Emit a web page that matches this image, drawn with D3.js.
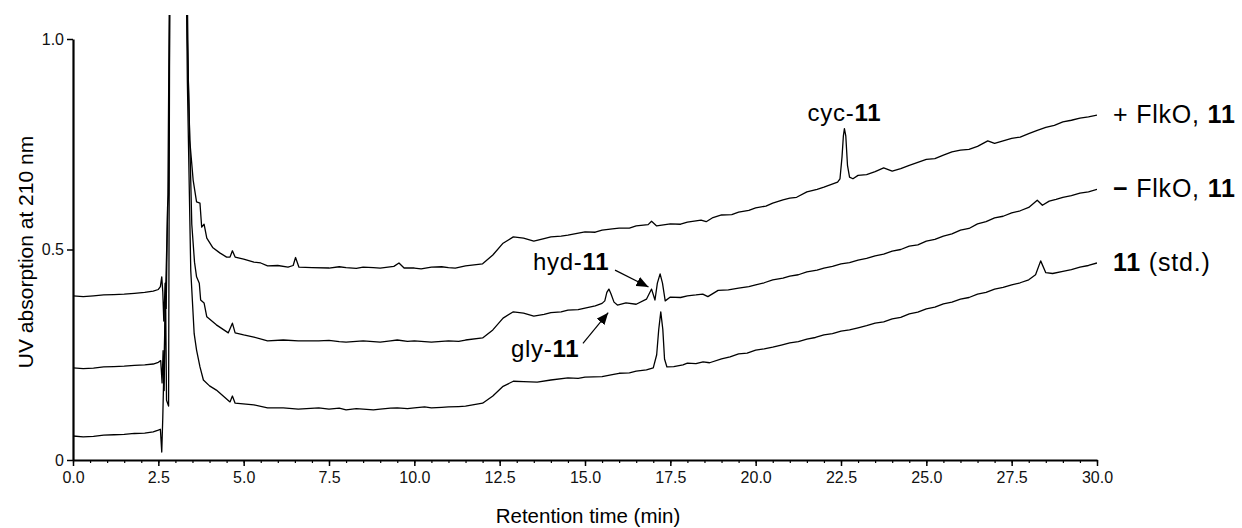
<!DOCTYPE html>
<html>
<head>
<meta charset="utf-8">
<script src="https://cdn.jsdelivr.net/npm/d3@7"></script>
<style>
  body { margin: 0; background: #fff; }
  svg { display: block; font-family: Arial, "Liberation Sans", Helvetica, sans-serif; }
  .axis path, .axis line { stroke: #000; }
  .axis text { font-size: 16px; fill: #111; font-family: Arial, "Liberation Sans", sans-serif; }
</style>
</head>
<body>
<svg id="chart" width="1242" height="528"></svg>
<script>
// [retention time (min), UV absorption]
const plusFlkO = [
  [0,0.390],[0.3,0.388],[0.6,0.390],[0.9,0.392],[1.2,0.393],[1.5,0.394],[1.8,0.396],[2.1,0.398],[2.35,0.401],
  [2.5,0.405],[2.56,0.412],[2.6,0.435],[2.63,0.40],[2.66,0.33],[2.7,0.42],[2.73,0.36],[2.77,0.60],[2.8,0.63],
  [2.85,1.3],[3.3,1.3],[3.35,1.0],[3.42,0.76],[3.52,0.665],[3.62,0.613],[3.72,0.610],[3.77,0.553],[3.84,0.560],
  [3.92,0.527],[4.1,0.504],[4.3,0.492],[4.5,0.482],[4.6,0.482],[4.67,0.497],[4.75,0.482],[5.0,0.477],[5.3,0.470],
  [5.5,0.468],[5.7,0.461],[6.0,0.462],[6.3,0.458],[6.45,0.462],[6.52,0.481],[6.62,0.458],[7.0,0.457],[7.5,0.456],
  [7.8,0.459],[8.0,0.457],[8.3,0.455],[8.5,0.458],[8.8,0.457],[9.0,0.456],[9.4,0.460],[9.55,0.468],[9.7,0.456],
  [10.0,0.456],[10.2,0.454],[10.5,0.458],[10.8,0.459],[11.0,0.457],[11.2,0.456],[11.5,0.461],[12.0,0.466],
  [12.3,0.487],[12.6,0.515],[12.9,0.530],[13.2,0.527],[13.5,0.520],[13.8,0.526],[14.0,0.530],[14.3,0.532],
  [14.5,0.534],[15.0,0.542],[15.3,0.541],[15.5,0.546],[15.8,0.549],[16.0,0.551],[16.3,0.551],[16.5,0.556],
  [16.85,0.559],[16.95,0.567],[17.1,0.556],[17.5,0.561],[17.8,0.560],[18.0,0.565],[18.4,0.570],[18.55,0.566],
  [18.75,0.576],[19.0,0.582],[19.3,0.583],[19.5,0.589],[19.8,0.593],[20.0,0.599],[20.3,0.603],[20.5,0.610],
  [20.8,0.618],[21.0,0.622],[21.2,0.624],[21.5,0.637],[21.8,0.643],[22.0,0.648],[22.4,0.660],[22.47,0.668],
  [22.53,0.72],[22.57,0.77],[22.6,0.787],[22.64,0.77],[22.69,0.70],[22.75,0.672],[22.85,0.668],[23.0,0.676],
  [23.25,0.678],[23.5,0.685],[23.75,0.694],[24.0,0.686],[24.25,0.692],[24.5,0.700],[24.75,0.707],[25.0,0.714],
  [25.25,0.716],[25.5,0.724],[25.75,0.732],[26.0,0.736],[26.25,0.738],[26.5,0.745],[26.8,0.758],[27.0,0.752],
  [27.25,0.758],[27.5,0.764],[27.75,0.767],[28.0,0.775],[28.25,0.783],[28.5,0.790],[28.75,0.795],[29.0,0.803],
  [29.25,0.807],[29.5,0.812],[29.75,0.815],[30.0,0.819]
];
const minusFlkO = [
  [0,0.219],[0.3,0.217],[0.6,0.218],[0.9,0.221],[1.2,0.222],[1.5,0.223],[1.8,0.225],[2.1,0.226],[2.35,0.228],
  [2.5,0.232],[2.57,0.236],[2.61,0.183],[2.64,0.26],[2.67,0.165],[2.71,0.42],[2.74,0.142],[2.8,0.128],
  [2.84,1.3],[3.32,1.3],[3.38,0.9],[3.48,0.56],[3.56,0.47],[3.62,0.435],[3.7,0.420],[3.74,0.380],[3.84,0.373],
  [3.92,0.340],[4.2,0.321],[4.55,0.302],[4.67,0.325],[4.75,0.302],[5.0,0.297],[5.3,0.292],[5.7,0.283],
  [6.16,0.285],[6.6,0.283],[7.2,0.283],[7.5,0.284],[7.8,0.281],[8.0,0.280],[8.3,0.282],[8.5,0.283],[8.8,0.281],
  [9.0,0.280],[9.3,0.283],[9.5,0.285],[9.8,0.282],[10.0,0.283],[10.3,0.281],[10.5,0.280],[10.8,0.282],
  [11.0,0.283],[11.3,0.282],[11.5,0.285],[12.0,0.290],[12.3,0.309],[12.6,0.337],[12.9,0.352],[13.2,0.349],
  [13.5,0.342],[13.8,0.346],[14.0,0.350],[14.3,0.352],[14.5,0.356],[14.8,0.357],[15.0,0.361],[15.3,0.366],
  [15.5,0.372],[15.58,0.378],[15.64,0.398],[15.7,0.406],[15.76,0.395],[15.85,0.375],[15.95,0.368],[16.2,0.373],
  [16.5,0.370],[16.8,0.382],[16.95,0.406],[17.05,0.380],[17.12,0.42],[17.2,0.442],[17.27,0.42],[17.35,0.378],
  [17.5,0.387],[17.8,0.386],[18.0,0.390],[18.25,0.392],[18.45,0.394],[18.6,0.388],[18.9,0.403],[19.2,0.404],
  [19.5,0.408],[19.8,0.412],[20.0,0.416],[20.25,0.421],[20.5,0.428],[20.8,0.432],[21.0,0.437],[21.25,0.440],
  [21.5,0.447],[21.8,0.451],[22.0,0.456],[22.25,0.460],[22.5,0.466],[22.75,0.469],[23.0,0.475],[23.25,0.479],
  [23.5,0.485],[23.75,0.489],[24.0,0.496],[24.25,0.500],[24.5,0.508],[24.75,0.511],[25.0,0.520],[25.25,0.524],
  [25.5,0.532],[25.75,0.537],[26.0,0.546],[26.25,0.550],[26.5,0.561],[26.75,0.566],[27.0,0.575],[27.25,0.579],
  [27.5,0.587],[27.75,0.592],[28.0,0.600],[28.25,0.617],[28.4,0.605],[28.6,0.615],[28.8,0.619],[29.0,0.624],
  [29.25,0.628],[29.5,0.634],[29.75,0.637],[30.0,0.643]
];
const std11 = [
  [0,0.057],[0.3,0.055],[0.6,0.056],[0.9,0.059],[1.2,0.060],[1.5,0.061],[1.8,0.063],[2.1,0.064],[2.35,0.067],
  [2.5,0.071],[2.56,0.073],[2.6,0.019],[2.63,0.10],[2.7,0.35],[2.78,0.62],[2.84,1.3],[3.3,1.3],[3.35,0.9],
  [3.45,0.45],[3.55,0.30],[3.62,0.261],[3.72,0.221],[3.82,0.190],[4.0,0.176],[4.2,0.166],[4.6,0.138],[4.67,0.152],
  [4.75,0.135],[5.3,0.131],[5.7,0.124],[6.16,0.124],[6.6,0.121],[7.2,0.124],[7.5,0.121],[7.8,0.123],[8.0,0.119],
  [8.3,0.122],[8.5,0.121],[8.8,0.119],[9.0,0.121],[9.3,0.123],[9.5,0.124],[9.8,0.122],[10.0,0.124],[10.3,0.126],
  [10.5,0.124],[10.8,0.125],[11.0,0.126],[11.3,0.127],[11.5,0.128],[12.0,0.135],[12.3,0.152],[12.6,0.175],
  [12.9,0.187],[13.2,0.186],[13.6,0.185],[14.0,0.190],[14.5,0.195],[14.8,0.194],[15.0,0.197],[15.5,0.198],
  [15.8,0.203],[16.0,0.206],[16.3,0.207],[16.5,0.211],[16.8,0.214],[17.0,0.219],[17.1,0.25],[17.16,0.31],
  [17.22,0.352],[17.28,0.31],[17.33,0.24],[17.4,0.221],[17.6,0.222],[17.87,0.226],[18.0,0.230],[18.25,0.229],
  [18.46,0.233],[18.65,0.231],[19.0,0.240],[19.25,0.245],[19.5,0.252],[19.75,0.254],[20.0,0.261],[20.25,0.264],
  [20.5,0.268],[20.75,0.273],[21.0,0.278],[21.25,0.281],[21.5,0.287],[21.75,0.291],[22.0,0.297],[22.25,0.300],
  [22.5,0.306],[22.75,0.309],[23.0,0.314],[23.25,0.319],[23.5,0.325],[23.75,0.328],[24.0,0.335],[24.25,0.339],
  [24.5,0.347],[24.75,0.351],[25.0,0.359],[25.25,0.363],[25.5,0.371],[25.75,0.375],[26.0,0.382],[26.25,0.386],
  [26.5,0.394],[26.75,0.398],[27.0,0.406],[27.25,0.410],[27.5,0.416],[27.75,0.421],[28.0,0.428],[28.2,0.440],
  [28.35,0.473],[28.5,0.445],[28.7,0.443],[29.0,0.448],[29.25,0.452],[29.5,0.458],[29.75,0.462],[30.0,0.468]
];
const majorTicksX = [0, 2.5, 5, 7.5, 10, 12.5, 15, 17.5, 20, 22.5, 25, 27.5, 30];
const minorTicksX = d3.range(0, 30.01, 0.5);
const ticksY = [0, 0.5, 1.0];
const tickLabelsY = ['0', '0.5', '1.0'];
// trace labels: [text, bold?] pieces
const traceLabels = [
  [['+ FlkO, ', false], ['11', true]],
  [['\u2212', true], [' FlkO, ', false], ['11', true]],
  [['11', true], [' (std.)', false]]
];
const traces = [plusFlkO, minusFlkO, std11];

const svg = d3.select('#chart');

const x = d3.scaleLinear().domain([0, 30]).range([73, 1097]);
const y = d3.scaleLinear().domain([0, 1]).range([460, 39]);

const defs = svg.append('defs');
defs.append('clipPath').attr('id', 'plotclip')
  .append('rect').attr('x', 73).attr('y', 15).attr('width', 1097 - 73).attr('height', 445);

defs.append('marker')
  .attr('id', 'arrow')
  .attr('viewBox', '0 0 12 10')
  .attr('refX', 12).attr('refY', 5)
  .attr('markerWidth', 12).attr('markerHeight', 10)
  .attr('markerUnits', 'userSpaceOnUse')
  .attr('orient', 'auto')
  .append('path').attr('d', 'M0,0 L12,5 L0,10 z').attr('fill', '#000');

// traces
const line = d3.line().x(d => x(d[0])).y(d => y(d[1]));
svg.append('g').attr('clip-path', 'url(#plotclip)')
  .selectAll('path').data(traces).join('path')
  .attr('d', line)
  .attr('fill', 'none')
  .attr('stroke', '#000')
  .attr('stroke-width', 1.3)
  .attr('stroke-linejoin', 'round');

// x axis
const gx = svg.append('g').attr('class', 'axis').attr('transform', 'translate(0,460)');
gx.append('g').call(d3.axisBottom(x).tickValues(minorTicksX).tickSize(3).tickFormat('').tickSizeOuter(0))
  .call(g => g.select('.domain').remove())
  .selectAll('line').attr('stroke-width', 1.2);
gx.append('g').call(d3.axisBottom(x).tickValues(majorTicksX).tickSize(6).tickPadding(6).tickFormat(d3.format('.1f')).tickSizeOuter(0))
  .call(g => g.select('.domain').attr('stroke-width', 2.2))
  .call(g => g.selectAll('line').attr('stroke-width', 1.5));

// y axis
const gy = svg.append('g').attr('class', 'axis').attr('transform', 'translate(73,0)');
gy.call(d3.axisLeft(y).tickValues(ticksY).tickSize(6).tickPadding(3).tickFormat((d, i) => tickLabelsY[i]).tickSizeOuter(0))
  .call(g => g.select('.domain').attr('stroke-width', 2.2))
  .call(g => g.selectAll('line').attr('stroke-width', 1.5));

// axis titles
svg.append('text')
  .attr('x', 588).attr('y', 523)
  .attr('text-anchor', 'middle')
  .attr('font-size', 20.5)
  .text('Retention time (min)');
svg.append('text')
  .attr('transform', 'translate(33,252) rotate(-90)')
  .attr('text-anchor', 'middle')
  .attr('font-size', 21)
  .text('UV absorption at 210 nm');

// trace labels at the right end
traces.forEach((tr, i) => {
  const last = tr[tr.length - 1];
  const t = svg.append('text')
    .attr('x', x(last[0]) + 16)
    .attr('y', y(last[1]) + 8)
    .attr('font-size', 25)
    .attr('letter-spacing', 0.8);
  traceLabels[i].forEach(p => {
    t.append('tspan').attr('font-weight', p[1] ? 'bold' : 'normal').text(p[0]);
  });
});

// peak annotations
function annot(parts, px, py, anchor) {
  const t = svg.append('text').attr('x', px).attr('y', py)
    .attr('font-size', 24).attr('letter-spacing', 0.7).attr('text-anchor', anchor);
  parts.forEach(p => t.append('tspan').attr('font-weight', p[1] ? 'bold' : 'normal').text(p[0]));
}
annot([['cyc-', false], ['11', true]], x(22.6), y(0.787) - 8, 'middle');
annot([['hyd-', false], ['11', true]], 533, y(0.451), 'start');
annot([['gly-', false], ['11', true]], 511, y(0.245), 'start');

svg.append('line')
  .attr('x1', x(15.88)).attr('y1', y(0.451))
  .attr('x2', x(16.86)).attr('y2', y(0.411))
  .attr('stroke', '#000').attr('stroke-width', 1.2)
  .attr('marker-end', 'url(#arrow)');
svg.append('line')
  .attr('x1', x(14.94)).attr('y1', y(0.277))
  .attr('x2', x(15.68)).attr('y2', y(0.350))
  .attr('stroke', '#000').attr('stroke-width', 1.2)
  .attr('marker-end', 'url(#arrow)');
</script>
</body>
</html>
